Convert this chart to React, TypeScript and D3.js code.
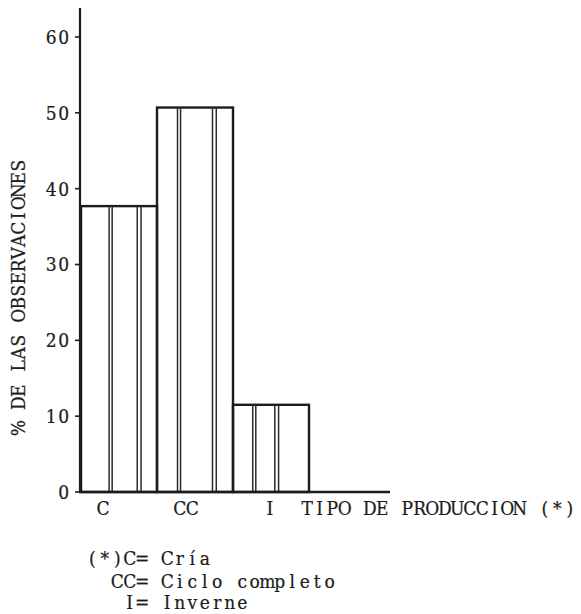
import React, { useEffect, useRef } from 'react';
import * as d3 from 'd3';

// data
const categories = ['C', 'CC', 'I'];
const percentages = [37.7, 50.7, 11.5];
const yTicks = [0, 10, 20, 30, 40, 50, 60];
const xTitle = 'TIPO DE PRODUCCION (*)';
const yTitle = '% DE LAS OBSERVACIONES';
const legendLines = ['(*)C= Cría', '  CC= Ciclo completo', '   I= Inverne'];

// hand-drawn double lines inside each bar (fraction of bar width)
const dividers = [
  [[0.37, 0.41], [0.74, 0.79]],
  [[0.27, 0.31], [0.73, 0.78]],
  [[0.26, 0.30], [0.55, 0.60]],
];
// typed labels do not sit exactly under bar centres
const labelShift = [-16, -9, -1];

const W = 581;
const H = 614;
const FONT = '"DejaVu Serif", "Liberation Serif", serif';
const INK = '#1c1c1c';
const ADV = 12.5; // typewriter pitch, px per character
const FS = 19;
const SQUEEZE = 0.9; // narrow the glyphs to sit in the typewriter cells

type Sel = d3.Selection<SVGGElement, unknown, null, undefined>;

// lay out text on a fixed typewriter grid, each glyph centred in its cell
function typed(g: Sel, str: string, left: number, y: number, transform = '') {
  const xs = Array.from(str)
    .map((_, i) => ((left + (i + 0.5) * ADV) / SQUEEZE).toFixed(2))
    .join(' ');
  return g.append('text')
    .attr('x', xs)
    .attr('y', y)
    .attr('transform', `${transform} scale(${SQUEEZE},1)`)
    .attr('text-anchor', 'middle')
    .attr('font-family', FONT)
    .attr('font-size', FS)
    .attr('fill', INK)
    .attr('stroke', INK)
    .attr('stroke-width', 0.25)
    .attr('xml:space', 'preserve')
    .style('white-space', 'pre')
    .text(str);
}

const App: React.FC = () => {
  const svgRef = useRef<SVGSVGElement>(null);

  useEffect(() => {
    if (!svgRef.current) return;
    const svg = d3.select(svgRef.current);
    svg.selectAll('*').remove();

    const x = d3.scaleBand<string>().domain(categories).range([81, 309]).paddingInner(0);
    const y = d3.scaleLinear().domain([0, 60]).range([492, 37]);

    const g = svg.append('g') as Sel;

    // bars
    categories.forEach((c, i) => {
      const x0 = x(c)!;
      const bw = x.bandwidth();
      const top = y(percentages[i]);
      g.append('rect')
        .attr('x', x0)
        .attr('y', top)
        .attr('width', bw)
        .attr('height', y(0) - top)
        .attr('fill', 'none')
        .attr('stroke', INK)
        .attr('stroke-width', 2.4);

      dividers[i].forEach((pair) => {
        pair.forEach((f) => {
          g.append('line')
            .attr('x1', x0 + f * bw)
            .attr('x2', x0 + f * bw)
            .attr('y1', top)
            .attr('y2', y(0))
            .attr('stroke', '#2a2a2a')
            .attr('stroke-width', 1.5);
        });
      });

      const cx = x0 + bw / 2 + labelShift[i];
      typed(g, c, cx - (c.length * ADV) / 2, 515);
    });

    // axes
    g.append('line')
      .attr('x1', 80).attr('x2', 80)
      .attr('y1', 8).attr('y2', y(0) + 1)
      .attr('stroke', INK).attr('stroke-width', 2.2);
    g.append('line')
      .attr('x1', 79).attr('x2', 390)
      .attr('y1', y(0)).attr('y2', y(0))
      .attr('stroke', INK).attr('stroke-width', 2.4);

    yTicks.forEach((t) => {
      g.append('line')
        .attr('x1', 75).attr('x2', 80)
        .attr('y1', y(t)).attr('y2', y(t))
        .attr('stroke', INK).attr('stroke-width', 1.6);
      const s = String(t);
      typed(g, s, 70 - s.length * ADV, y(t) + 7);
    });

    typed(g, xTitle, 301, 515);

    // rotated y title, centred at (25, 297)
    typed(g, yTitle, -(yTitle.length * ADV) / 2, 0, 'translate(25,297) rotate(-90)');

    // footnote
    const baselines = [565, 588, 609];
    legendLines.forEach((line, i) => {
      typed(g, line, 86, baselines[i]);
    });
  }, []);

  return (
    <svg
      ref={svgRef}
      width={W}
      height={H}
      style={{ position: 'absolute', left: 0, top: 0, background: '#fff' }}
    />
  );
};

export default App;
